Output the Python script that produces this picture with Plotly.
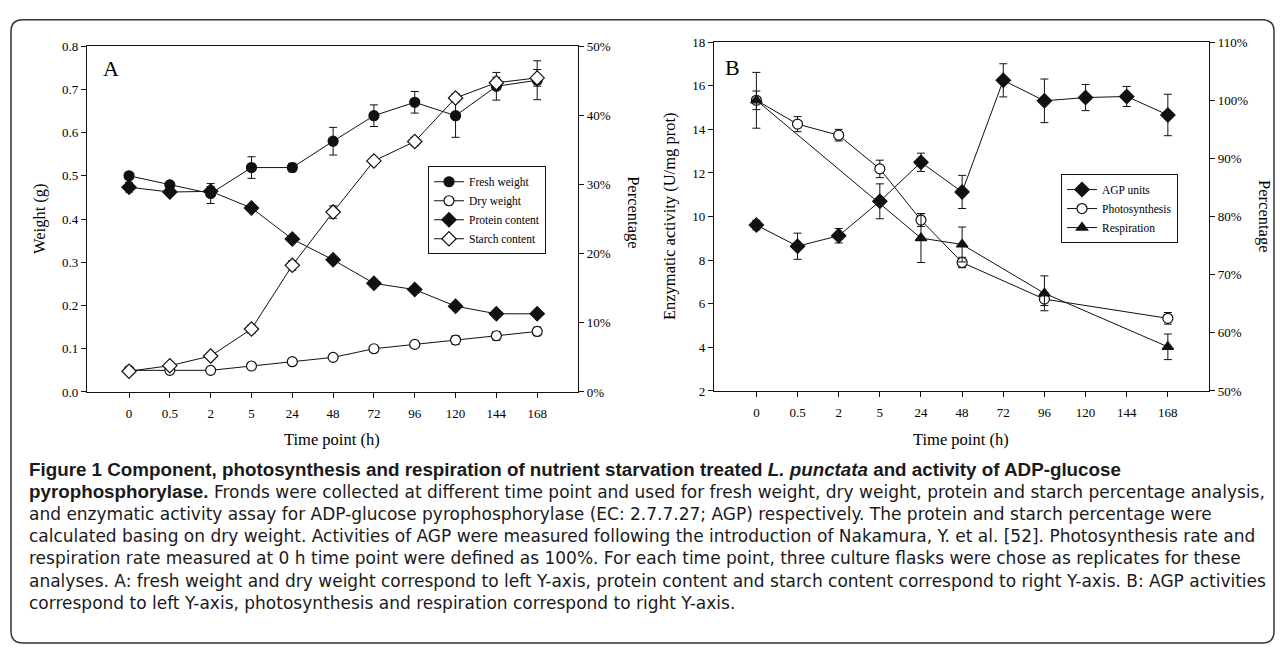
import plotly.graph_objects as go

W, H = 1283, 654

# ---------------- data ----------------
times = ["0", "0.5", "2", "5", "24", "48", "72", "96", "120", "144", "168"]

# Panel A (left axis: g; right axis: %)
fresh_weight = [0.500, 0.479, 0.459, 0.519, 0.519, 0.580, 0.639, 0.670, 0.639, 0.707, 0.721]
fresh_err = [0.005, 0.005, 0.023, 0.025, 0.010, 0.032, 0.025, 0.025, 0.050, 0.032, 0.045]
dry_weight = [0.05, 0.05, 0.05, 0.06, 0.07, 0.08, 0.10, 0.11, 0.12, 0.13, 0.14]
dry_err = [0.004, 0.004, 0.004, 0.004, 0.004, 0.004, 0.005, 0.007, 0.010, 0.010, 0.010]
protein = [29.6, 28.9, 29.0, 26.6, 22.1, 19.1, 15.7, 14.8, 12.4, 11.3, 11.3]
protein_err = [0.7, 0.5, 0.7, 0.4, 0.4, 0.4, 0.3, 0.4, 0.3, 0.3, 0.3]
starch = [3.0, 3.8, 5.2, 9.1, 18.3, 26.0, 33.4, 36.2, 42.5, 44.7, 45.4]
starch_err = [0.3, 0.4, 0.4, 0.6, 0.7, 0.9, 0.4, 0.6, 0.6, 0.8, 1.2]

# Panel B (left axis: U/mg prot; right axis: %)
agp = [9.61, 8.64, 9.12, 10.70, 12.49, 11.13, 16.25, 15.31, 15.46, 15.51, 14.66]
agp_err = [0.22, 0.60, 0.33, 0.80, 0.42, 0.76, 0.76, 1.00, 0.60, 0.46, 0.95]
photo = [100.0, 95.9, 94.0, 88.2, 79.4, 72.1, None, 65.8, None, None, 62.5]
photo_err = [1.6, 1.3, 1.0, 1.5, 1.1, 0.9, None, 1.1, None, None, 1.0]
resp = [100.0, None, None, None, 76.3, 75.2, None, 66.8, None, None, 57.6]
resp_err = [4.8, None, None, None, 4.2, 3.0, None, 3.0, None, None, 2.2]

BOLD = ("<span style='font-family:Liberation Sans, Arial, sans-serif;"
        "font-weight:bold;font-size:18.8px'>")
caption_lines = [
    BOLD + "Figure 1 Component, photosynthesis and respiration of nutrient starvation treated <i>L. punctata</i> and activity of ADP-glucose</span>",
    BOLD + "pyrophosphorylase.</span> Fronds were collected at different time point and used for fresh weight, dry weight, protein and starch percentage analysis,",
    "and enzymatic activity assay for ADP-glucose pyrophosphorylase (EC: 2.7.7.27; AGP) respectively. The protein and starch percentage were",
    "calculated basing on dry weight. Activities of AGP were measured following the introduction of Nakamura, Y. et al. [52]. Photosynthesis rate and",
    "respiration rate measured at 0 h time point were defined as 100%. For each time point, three culture flasks were chose as replicates for these",
    "analyses. A: fresh weight and dry weight correspond to left Y-axis, protein content and starch content correspond to right Y-axis. B: AGP activities",
    "correspond to left Y-axis, photosynthesis and respiration correspond to right Y-axis.",
]

# ---------------- helpers ----------------
SERIF = "Liberation Serif, Times New Roman, serif"
SANS = "DejaVu Sans, Open Sans, sans-serif"
INK = "#111111"
xpos = list(range(len(times)))


def px(x):
    return x / W


def py(y):
    return 1 - y / H


def err(arr):
    return dict(type="data", array=arr, visible=True, color=INK, thickness=1, width=4)


def marker(symbol, filled, size):
    return dict(symbol=symbol, size=size, color=INK if filled else "white",
                line=dict(color=INK, width=1.2))


fig = go.Figure()

# Panel A traces
fig.add_trace(go.Scatter(x=xpos, y=fresh_weight, error_y=err(fresh_err), name="Fresh weight",
                         mode="lines+markers", line=dict(color=INK, width=1),
                         marker=marker("circle", True, 10), xaxis="x", yaxis="y", legend="legend"))
fig.add_trace(go.Scatter(x=xpos, y=dry_weight, error_y=err(dry_err), name="Dry weight",
                         mode="lines+markers", line=dict(color=INK, width=1),
                         marker=marker("circle", False, 10), xaxis="x", yaxis="y", legend="legend"))
fig.add_trace(go.Scatter(x=xpos, y=protein, error_y=err(protein_err), name="Protein content",
                         mode="lines+markers", line=dict(color=INK, width=1),
                         marker=marker("diamond", True, 11), xaxis="x", yaxis="y2", legend="legend"))
fig.add_trace(go.Scatter(x=xpos, y=starch, error_y=err(starch_err), name="Starch content",
                         mode="lines+markers", line=dict(color=INK, width=1),
                         marker=marker("diamond", False, 11), xaxis="x", yaxis="y2", legend="legend"))

# Panel B traces
fig.add_trace(go.Scatter(x=xpos, y=agp, error_y=err(agp_err), name="AGP units",
                         mode="lines+markers", line=dict(color=INK, width=1),
                         marker=marker("diamond", True, 11), xaxis="x2", yaxis="y3", legend="legend2"))
fig.add_trace(go.Scatter(x=xpos, y=photo, error_y=err(photo_err), name="Photosynthesis",
                         mode="lines+markers", connectgaps=True, line=dict(color=INK, width=1),
                         marker=marker("circle", False, 10), xaxis="x2", yaxis="y4", legend="legend2"))
fig.add_trace(go.Scatter(x=xpos, y=resp, error_y=err(resp_err), name="Respiration",
                         mode="lines+markers", connectgaps=True, line=dict(color=INK, width=1),
                         marker=marker("triangle-up", True, 10), xaxis="x2", yaxis="y4", legend="legend2"))

axis_common = dict(showline=True, linecolor=INK, linewidth=1.2, ticks="outside", ticklen=5,
                   tickwidth=1.2, tickcolor=INK, showgrid=False, zeroline=False,
                   tickfont=dict(family=SERIF, size=13, color="black"))

xa = dict(axis_common, range=[-1.03, 11], tickmode="array", tickvals=xpos, ticktext=times,
          mirror=True, ticklabelstandoff=4)

leg_common = dict(xanchor="left", yanchor="top", bgcolor="white", bordercolor=INK, borderwidth=1,
                  font=dict(family=SERIF, size=11.5, color="black"), tracegroupgap=0, itemwidth=30)

fig.update_layout(
    width=W, height=H, margin=dict(l=0, r=0, t=0, b=0),
    paper_bgcolor="white", plot_bgcolor="white", showlegend=True,
    xaxis=dict(xa, domain=[px(87), px(578)], anchor="y"),
    yaxis=dict(axis_common, domain=[py(394), py(40)], range=[0, 0.8], dtick=0.1,
               tickformat=".1f", anchor="x", mirror=False),
    yaxis2=dict(axis_common, range=[0, 50], dtick=10, ticksuffix="%", overlaying="y",
                side="right", anchor="x"),
    xaxis2=dict(xa, domain=[px(714), px(1209)], anchor="y3"),
    yaxis3=dict(axis_common, domain=[py(393), py(36)], range=[2, 18], dtick=2, anchor="x2"),
    yaxis4=dict(axis_common, range=[50, 110], dtick=10, ticksuffix="%", overlaying="y3",
                side="right", anchor="x2"),
    legend=dict(leg_common, x=px(428), y=py(163)),
    legend2=dict(leg_common, x=px(1061), y=py(171)),
)

ann = []
# panel letters
ann.append(dict(text="A", x=px(101), y=py(63), xref="paper", yref="paper", xanchor="left",
                yanchor="middle", showarrow=False, font=dict(family=SERIF, size=22, color="black")))
ann.append(dict(text="B", x=px(723), y=py(62), xref="paper", yref="paper", xanchor="left",
                yanchor="middle", showarrow=False, font=dict(family=SERIF, size=22, color="black")))
# axis titles
for txt, x, y, ang in [("Weight (g)", 39, 217, -90), ("Percentage", 634, 210, 90),
                       ("Enzymatic activity (U/mg prot)", 669, 214, -90),
                       ("Percentage", 1265, 214, 90)]:
    ann.append(dict(text=txt, x=px(x), y=py(y), xref="paper", yref="paper", textangle=ang,
                    xanchor="center", yanchor="middle", showarrow=False,
                    font=dict(family=SERIF, size=16.5, color="black")))
for x in (332, 961):
    ann.append(dict(text="Time point (h)", x=px(x), y=py(443), xref="paper", yref="paper",
                    xanchor="center", yanchor="middle", showarrow=False,
                    font=dict(family=SERIF, size=16.5, color="black")))
# caption (one multi-line block)
ann.append(dict(text="<br>".join(caption_lines), x=px(27), y=py(461), xref="paper", yref="paper",
                xanchor="left", yanchor="top", showarrow=False, align="left",
                font=dict(family=SANS, size=17.0, color="#1a1a1a")))
fig.update_layout(annotations=ann)

# rounded outer frame
x0, x1, y0, y1, r = 11, 1274, 13, 651, 12
rx, ry = r / W, r / H
X0, X1, Yt, Yb = px(x0), px(x1), py(y0), py(y1)
path = (f"M {X0+rx},{Yt} L {X1-rx},{Yt} Q {X1},{Yt} {X1},{Yt-ry} L {X1},{Yb+ry} "
        f"Q {X1},{Yb} {X1-rx},{Yb} L {X0+rx},{Yb} Q {X0},{Yb} {X0},{Yb+ry} L {X0},{Yt-ry} "
        f"Q {X0},{Yt} {X0+rx},{Yt} Z")
fig.add_shape(type="path", path=path, xref="paper", yref="paper",
              line=dict(color="#333333", width=1.5), layer="below")

fig.write_html("out.html", config={"displayModeBar": False},
               post_script="document.body.style.margin='0';document.body.style.overflow='hidden';")
